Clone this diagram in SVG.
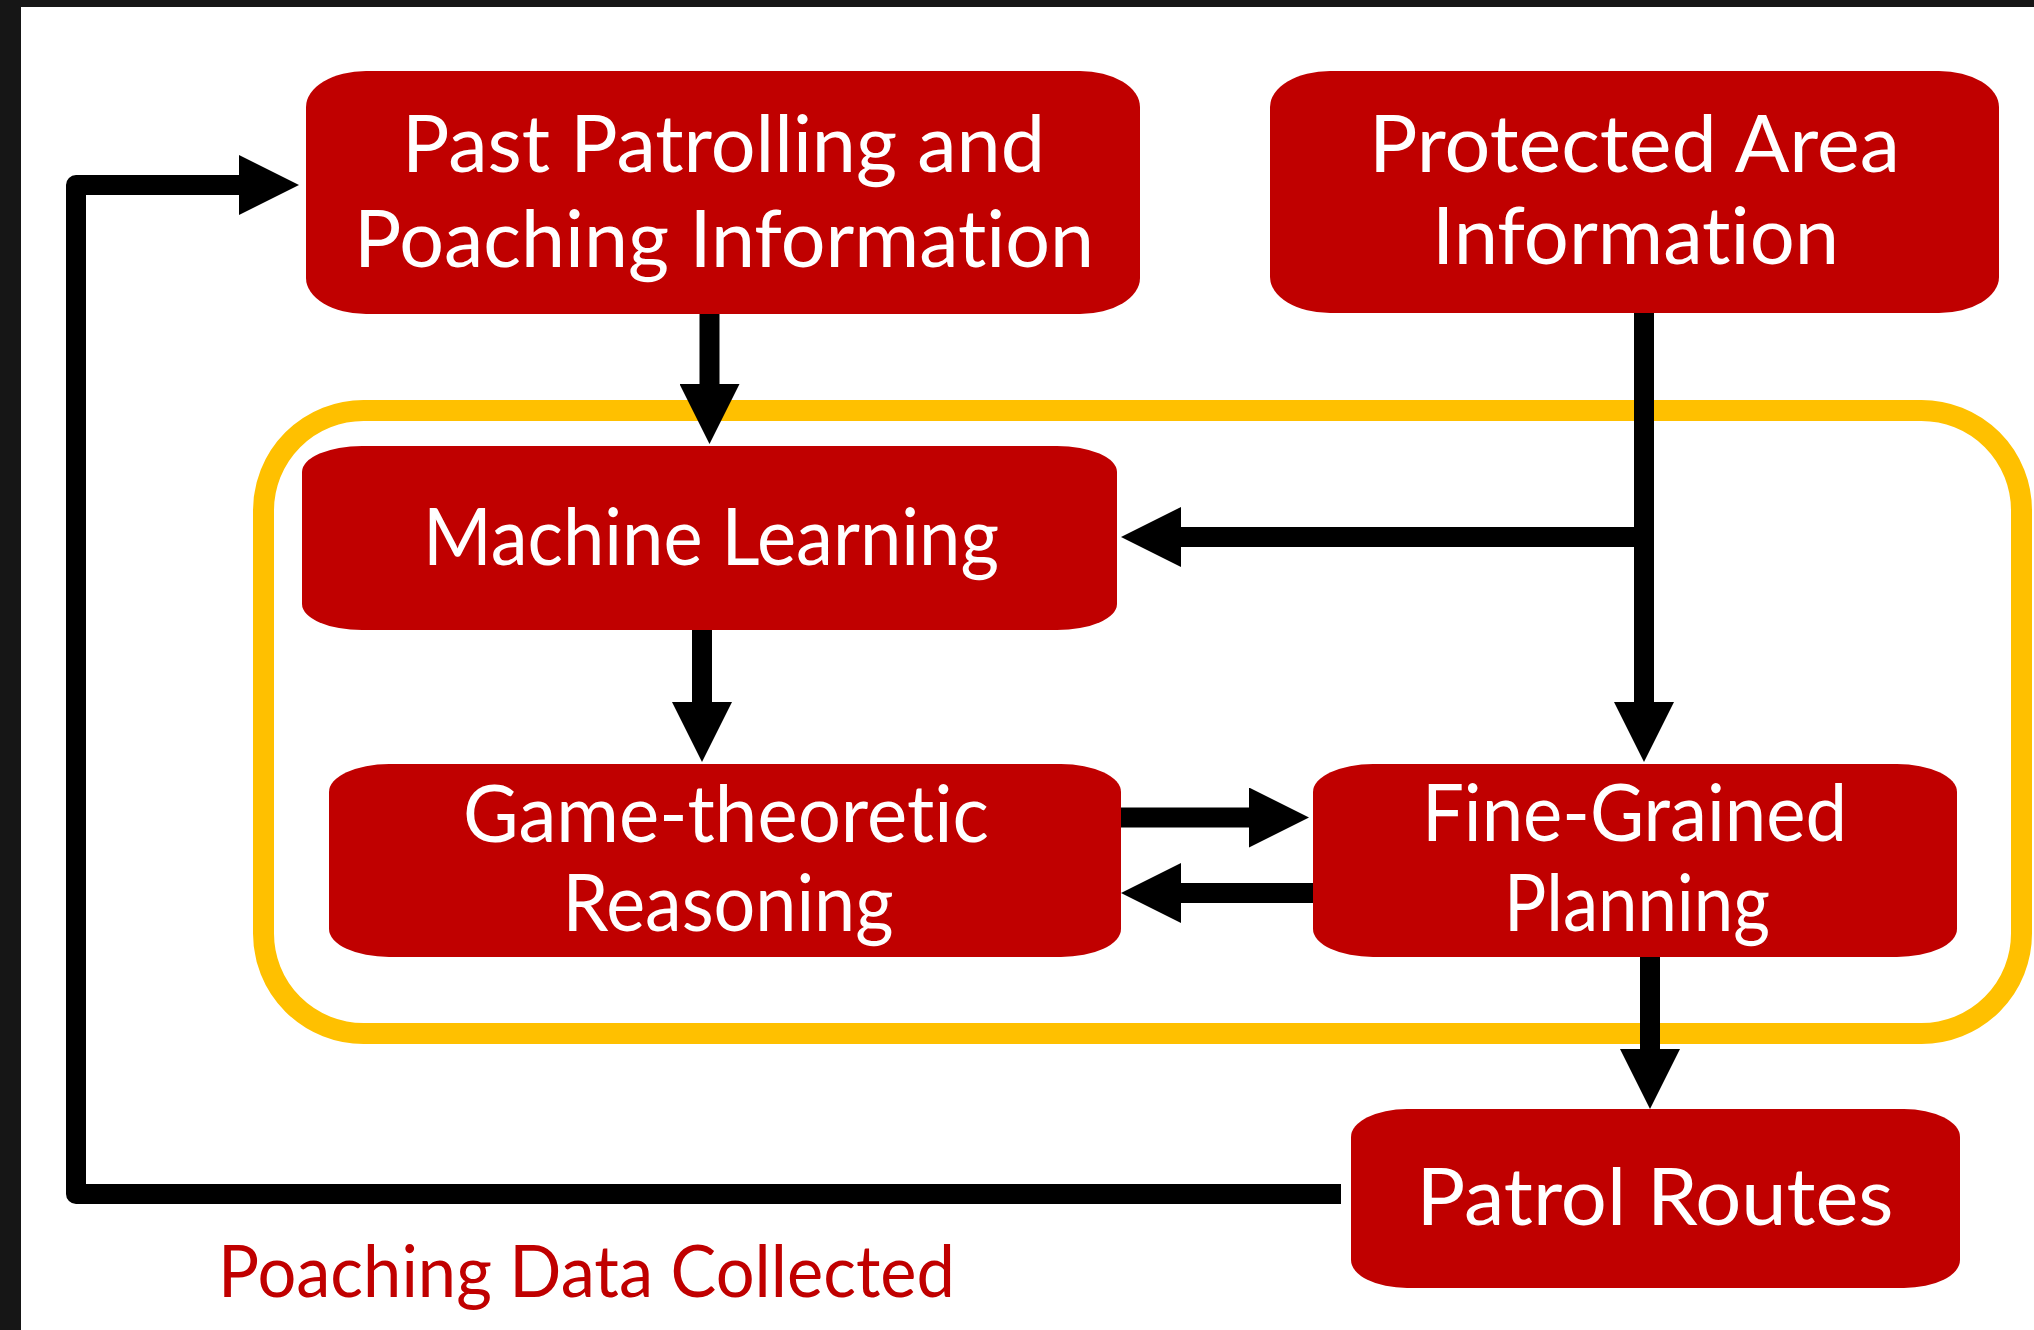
<svg xmlns="http://www.w3.org/2000/svg" width="2034" height="1330" viewBox="0 0 2034 1330">
  <style>
    .node rect { fill: #C00000; }
    .node text { fill: #FFFFFF; font-family: Lato, "Open Sans", "Liberation Sans", sans-serif; font-size: 80px; text-anchor: middle; font-variant-ligatures: none; }
    .edge { fill: none; stroke: #000000; stroke-width: 20; marker-end: url(#head); }
    .caption { fill: #C00000; font-family: Lato, "Open Sans", "Liberation Sans", sans-serif; font-size: 71px; text-anchor: middle; font-variant-ligatures: none; }
  </style>
  <defs>
    <marker id="head" viewBox="0 0 60 60" markerWidth="60" markerHeight="60" markerUnits="userSpaceOnUse" refX="0" refY="30" orient="auto">
      <path d="M0,0 L60,30 L0,60 Z" fill="#000000"/>
    </marker>
  </defs>

  <!-- page background with dark frame on top and left -->
  <rect x="0" y="0" width="2034" height="1330" fill="#FFFFFF"/>
  <rect x="0" y="0" width="2034" height="7" fill="#161616"/>
  <rect x="0" y="0" width="21" height="1330" fill="#161616"/>

  <!-- yellow grouping frame -->
  <rect id="core-frame" x="263.5" y="410.5" width="1758" height="623" rx="100" ry="100" fill="none" stroke="#FFC000" stroke-width="21"/>

  <!-- connectors -->
  <g id="connectors">
    <path class="edge" d="M709.5,314 V384"/>
    <path class="edge" d="M702,630 V702"/>
    <path class="edge" d="M1644,313 V702"/>
    <path class="edge" d="M1644,537 H1181"/>
    <path class="edge" d="M1121,817.5 H1249"/>
    <path class="edge" d="M1313,893 H1181"/>
    <path class="edge" d="M1650,957 V1049"/>
    <path class="edge" d="M1341,1194 H76 V185 H239" stroke-linejoin="round"/>
  </g>

  <!-- nodes -->
  <g id="past-info" class="node">
    <rect x="306" y="71" width="834" height="243" rx="60" ry="36"/>
    <text x="723.5" y="172" textLength="643" lengthAdjust="spacingAndGlyphs">Past Patrolling and</text>
    <text x="724" y="267" textLength="740" lengthAdjust="spacingAndGlyphs">Poaching Information</text>
  </g>

  <g id="area-info" class="node">
    <rect x="1270" y="71" width="729" height="242" rx="60" ry="36"/>
    <text x="1634.5" y="172" textLength="531" lengthAdjust="spacingAndGlyphs">Protected Area</text>
    <text x="1635.5" y="264" textLength="407" lengthAdjust="spacingAndGlyphs">Information</text>
  </g>

  <g id="machine-learning" class="node">
    <rect x="302" y="446" width="815" height="184" rx="60" ry="26"/>
    <text x="711" y="565" textLength="576" lengthAdjust="spacingAndGlyphs">Machine Learning</text>
  </g>

  <g id="game-theoretic" class="node">
    <rect x="329" y="764" width="792" height="193" rx="60" ry="28"/>
    <text x="726" y="842" textLength="526" lengthAdjust="spacingAndGlyphs">Game-theoretic</text>
    <text x="728" y="931" textLength="331" lengthAdjust="spacingAndGlyphs">Reasoning</text>
  </g>

  <g id="fine-grained" class="node">
    <rect x="1313" y="764" width="644" height="193" rx="60" ry="28"/>
    <text x="1634.5" y="841" textLength="425" lengthAdjust="spacingAndGlyphs">Fine-Grained</text>
    <text x="1637" y="931" textLength="266" lengthAdjust="spacingAndGlyphs">Planning</text>
  </g>

  <g id="patrol-routes" class="node">
    <rect x="1351" y="1109" width="609" height="179" rx="56" ry="28"/>
    <text x="1655" y="1225" textLength="477" lengthAdjust="spacingAndGlyphs">Patrol Routes</text>
  </g>

  <text class="caption" x="586.5" y="1297" textLength="737" lengthAdjust="spacingAndGlyphs">Poaching Data Collected</text>
</svg>
